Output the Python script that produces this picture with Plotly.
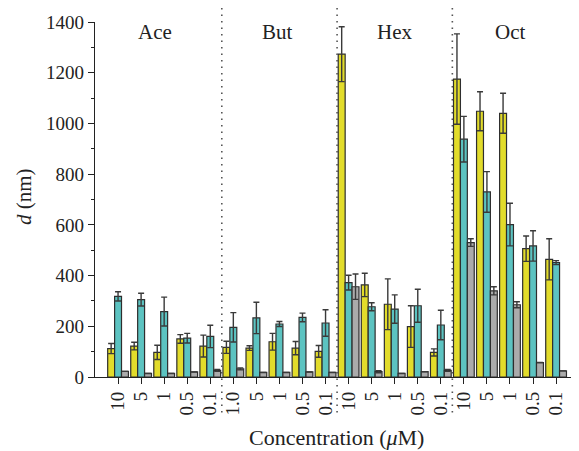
import plotly.graph_objects as go

tick_labels = ["10", "5", "1", "0.5", "0.1",
               "1.0", "5", "1", "0.5", "0.1",
               "10", "5", "1", "0.5", "0.1",
               "10", "5", "1", "0.5", "0.1"]
group_names = ["Ace", "But", "Hex", "Oct"]

yellow_vals = [112, 122, 97, 150, 122,
               117, 114, 139, 114, 101,
               1273, 363, 287, 199, 97,
               1175, 1048, 1040, 506, 464]
yellow_err = [20, 15, 28, 17, 43,
              24, 9, 33, 26, 23,
              108, 46, 100, 82, 14,
              178, 77, 79, 50, 81]
teal_vals = [318, 305, 258, 153, 160,
             196, 233, 209, 235, 213,
             372, 277, 268, 281, 205,
             938, 730, 601, 517, 451]
teal_err = [18, 25, 57, 19, 44,
            58, 62, 10, 17, 52,
            29, 16, 56, 65, 58,
            90, 80, 84, 60, 8]
gray_vals = [22, 14, 14, 20, 26,
             32, 18, 18, 20, 18,
             356, 21, 14, 21, 26,
             530, 340, 285, 57, 24]
gray_err = [0, 0, 0, 0, 4,
            4, 0, 0, 0, 0,
            50, 4, 0, 0, 4,
            15, 16, 12, 0, 0]

x = list(range(len(tick_labels)))
FONT = "Liberation Serif, Times New Roman, serif"
border = "#2e2e2e"

# figure-pixel layout (page body has an 8px margin)
L, T, R, B = 87, 14, 9, 82
W, H = 579, 451
plot_w = W - L - R
plot_h = H - T - B


def px_to_paper(px, py):
    return (px - L) / plot_w, (H - B - py) / plot_h


def bar(vals, errs, color, name):
    return go.Bar(
        x=x, y=vals, name=name,
        marker=dict(color=color, line=dict(color=border, width=1.2)),
        error_y=dict(type="data", array=errs, visible=True,
                     color="#3a3a3a", thickness=1.4, width=3),
    )


fig = go.Figure()
fig.add_trace(bar(yellow_vals, yellow_err, "#E2DC2B", "y"))
fig.add_trace(bar(teal_vals, teal_err, "#5CC3C1", "t"))
fig.add_trace(bar(gray_vals, gray_err, "#ABABAB", "g"))

# group separators
for sep in [4.5, 9.5, 14.5]:
    fig.add_shape(type="line", xref="x", yref="paper", x0=sep, x1=sep,
                  y0=-0.1, y1=1.05,
                  line=dict(color="#555", width=1.6, dash="1.5px,5px"))

group_pos = [1.6, 6.9, 12.0, 17.0]
for name, gx in zip(group_names, group_pos):
    fig.add_annotation(x=gx, y=0.972, xref="x", yref="paper", text=name,
                       showarrow=False, xanchor="center", yanchor="middle",
                       font=dict(family=FONT, size=21, color="#222"))

# axis titles
tx, ty = px_to_paper(328, 429)
fig.add_annotation(x=tx, y=ty, xref="paper", yref="paper",
                   text="Concentration (<i>μ</i>M)", showarrow=False,
                   xanchor="center", yanchor="middle",
                   font=dict(family=FONT, size=22, color="#222"))
yx, yy = px_to_paper(16, 189)
fig.add_annotation(x=yx, y=yy, xref="paper", yref="paper",
                   text="<i>d</i> (nm)", showarrow=False, textangle=-90,
                   xanchor="center", yanchor="middle",
                   font=dict(family=FONT, size=21, color="#222"))

fig.update_layout(
    width=W, height=H,
    margin=dict(l=L, r=R, t=T, b=B),
    plot_bgcolor="white", paper_bgcolor="white",
    barmode="group", bargap=0.1, bargroupgap=0,
    showlegend=False,
    font=dict(family=FONT, size=20, color="#222"),
)

fig.update_xaxes(
    tickmode="array", tickvals=x, ticktext=tick_labels,
    tickangle=-90, range=[-1, 19.95], automargin=False,
    showline=True, linecolor="#222", linewidth=1.2,
    ticks="outside", ticklen=6, tickcolor="#222",
    showgrid=False, zeroline=False,
    tickfont=dict(family=FONT, size=19),
)
fig.update_yaxes(
    range=[0, 1400], tickvals=[0, 200, 400, 600, 800, 1000, 1200, 1400],
    automargin=False,
    showline=True, linecolor="#222", linewidth=1.2,
    ticks="outside", ticklen=6, tickcolor="#222",
    minor=dict(ticks="outside", ticklen=3, dtick=100, tickcolor="#222"),
    showgrid=False, zeroline=False,
    tickfont=dict(family=FONT, size=19),
)

fig.write_html("out.html")
